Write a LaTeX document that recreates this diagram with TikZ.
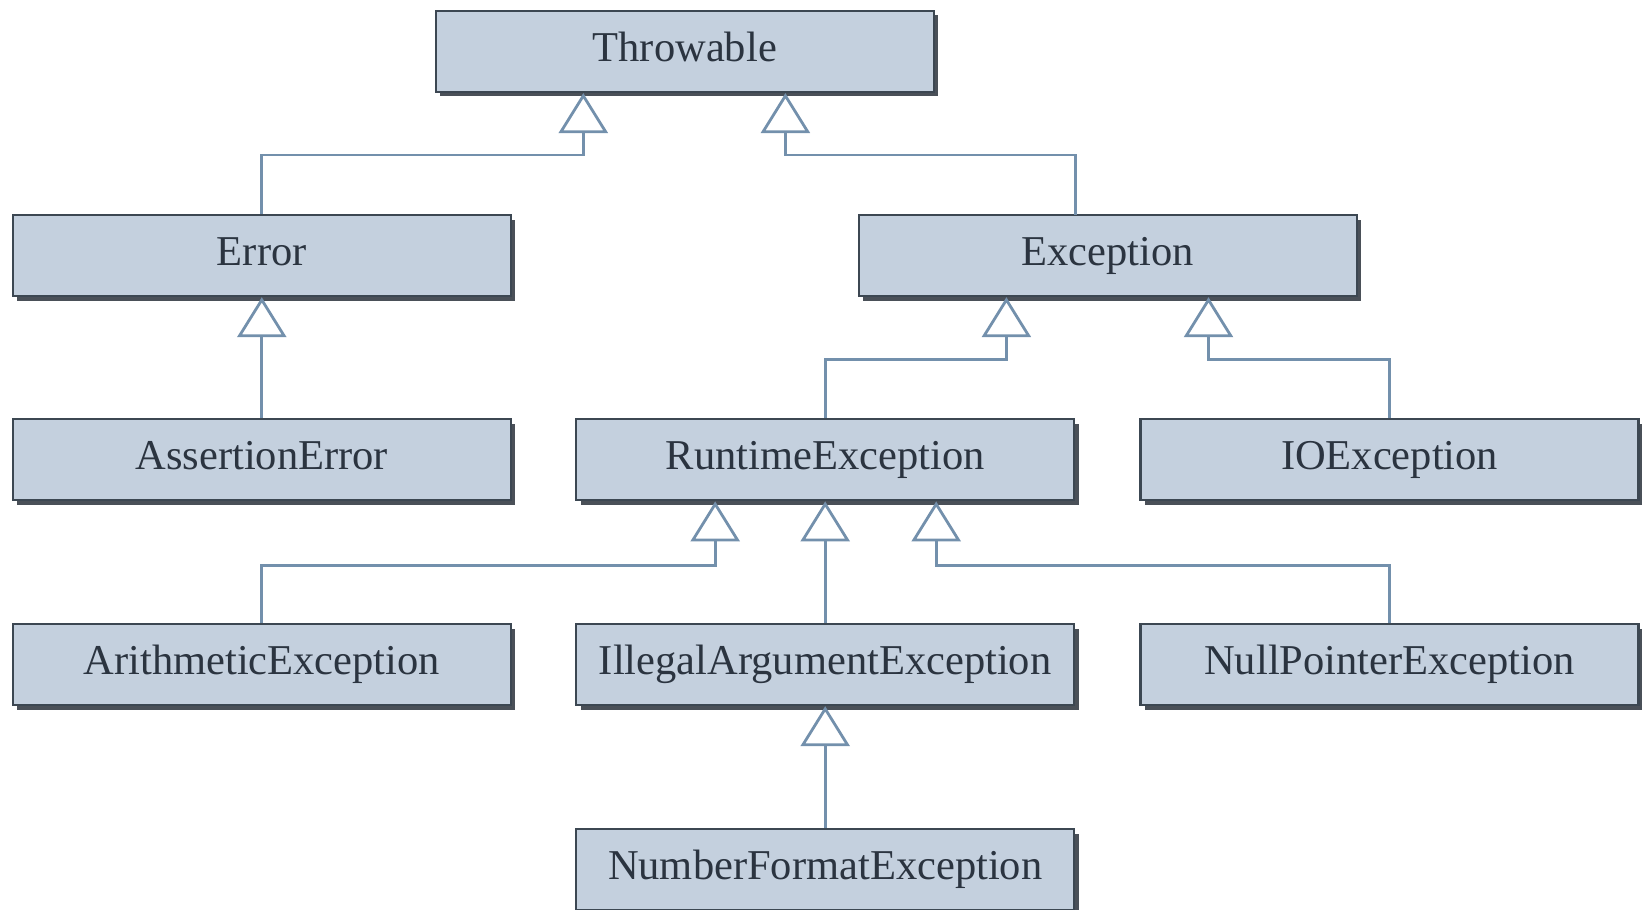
\documentclass[tikz,border=0pt]{standalone}
\usepackage{fontspec}
\setmainfont{Liberation Serif}
\usetikzlibrary{arrows.meta,shadows}
\definecolor{boxfill}{HTML}{C4D0DE}
\definecolor{boxline}{HTML}{3C4752}
\definecolor{boxshadow}{HTML}{4A5058}
\definecolor{linkcol}{HTML}{7390AC}
\definecolor{textcol}{HTML}{2B3440}
\begin{document}
\begin{tikzpicture}[x=1pt,y=-1pt,
  cls/.style={draw=boxline, line width=2.4pt, fill=boxfill, rectangle,
    minimum width=498pt, minimum height=81pt, inner sep=0pt,
    text height=29pt, text depth=9pt,
    text=textcol, font=\fontsize{42.5}{50}\selectfont,
    general shadow={fill=boxshadow, shadow xshift=4.5pt, shadow yshift=-4.5pt}},
  inh/.style={draw=linkcol, line width=2.8pt,
    -{Triangle[open, length=40pt, width=49pt, line width=2.8pt]}}]
\useasboundingbox (0,0) rectangle (1642,910);

% class boxes
\node[cls] (thr) at (684.8,51.4) {Throwable};
\node[cls] (err) at (261.8,255.5) {Error};
\node[cls] (exc) at (1107.9,255.5) {Exception};
\node[cls] (ass) at (261.8,459.7) {AssertionError};
\node[cls] (rte) at (825.2,459.7) {RuntimeException};
\node[cls] (ioe) at (1389.6,459.7) {IOException};
\node[cls] (ari) at (261.8,664.5) {ArithmeticException};
\node[cls] (ill) at (825.2,664.5) {IllegalArgumentException};
\node[cls] (npe) at (1389.6,664.5) {NullPointerException};
\node[cls] (nfe) at (825.2,869.5) {NumberFormatException};

% bend points of the inheritance links
\coordinate (t1) at (583.3,155);
\coordinate (t2) at (785.4,155);
\coordinate (e1) at (1006.4,359.2);
\coordinate (e2) at (1208.5,359.2);
\coordinate (r1) at (715.2,565.5);
\coordinate (r3) at (936.2,565.5);
\coordinate (exctop) at (1075.5,214.7);

% inheritance links
\draw[inh] (err.north) |- (t1) -- (t1 |- thr.south);
\draw[inh] (exctop) |- (t2) -- (t2 |- thr.south);
\draw[inh] (ass.north) -- (err.south);
\draw[inh] (rte.north) |- (e1) -- (e1 |- exc.south);
\draw[inh] (ioe.north) |- (e2) -- (e2 |- exc.south);
\draw[inh] (ari.north) |- (r1) -- (r1 |- rte.south);
\draw[inh] (ill.north) -- (rte.south);
\draw[inh] (npe.north) |- (r3) -- (r3 |- rte.south);
\draw[inh] (nfe.north) -- (ill.south);
\end{tikzpicture}
\end{document}
